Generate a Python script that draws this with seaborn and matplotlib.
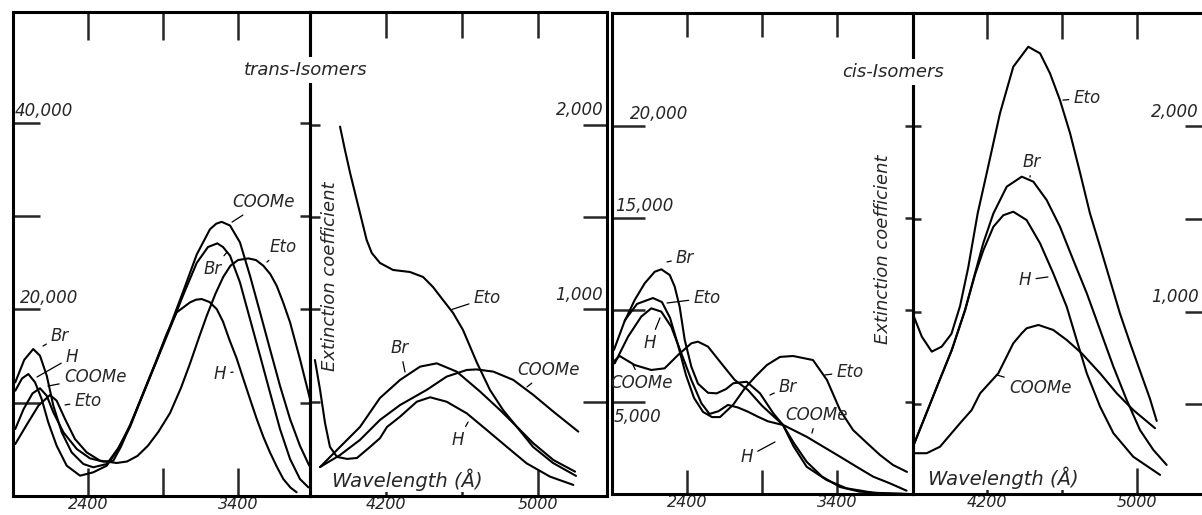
import numpy as np
import pandas as pd
import matplotlib
matplotlib.use('Agg')
import matplotlib.pyplot as plt
import matplotlib.transforms as mtransforms
import seaborn as sns

# ---- trans isomers, UV part (left scale) ----
tuv_h_wl = [1915, 1960, 2002, 2047, 2091, 2135, 2191, 2258, 2347, 2435, 2525, 2600, 2680, 2769, 2858, 2920, 2991, 3080, 3120, 3158, 3210, 3258, 3300, 3341, 3390, 3436, 3480, 3525, 3570, 3613, 3660, 3702, 3750, 3791]
tuv_h_eps = [11290, 12600, 13080, 12190, 10400, 7900, 5390, 3250, 2180, 2540, 3250, 5000, 7600, 11000, 14600, 17200, 19690, 20760, 21050, 21120, 20800, 20050, 18700, 16830, 14800, 12540, 10400, 8250, 6300, 4680, 3100, 1820, 900, 400]
tuv_br_wl = [1915, 1975, 2035, 2080, 2125, 2169, 2225, 2291, 2369, 2435, 2525, 2600, 2680, 2769, 2858, 2947, 3036, 3125, 3200, 3262, 3300, 3347, 3413, 3480, 3547, 3613, 3680, 3747, 3813, 3869]
tuv_br_eps = [12190, 14600, 15760, 15040, 12900, 9680, 6830, 4680, 3430, 3080, 3430, 5100, 7400, 11000, 14500, 18000, 21600, 25000, 26700, 27090, 26700, 25760, 22910, 18970, 15040, 11120, 7180, 3970, 1820, 930]
tuv_coome_wl = [1915, 1970, 2030, 2080, 2125, 2169, 2236, 2325, 2413, 2502, 2569, 2620, 2680, 2769, 2858, 2947, 3036, 3125, 3213, 3255, 3291, 3347, 3413, 3480, 3547, 3613, 3680, 3747, 3813, 3875]
tuv_coome_eps = [7180, 9300, 11000, 11550, 10750, 8970, 6830, 5040, 4040, 3680, 3790, 5300, 7500, 11100, 14600, 18200, 22000, 25900, 28600, 29200, 29400, 29000, 27200, 23620, 19690, 15760, 11820, 8250, 5390, 3250]
tuv_eto_wl = [1915, 1990, 2070, 2147, 2191, 2247, 2313, 2391, 2480, 2591, 2660, 2730, 2800, 2870, 2947, 3020, 3080, 3140, 3191, 3250, 3302, 3350, 3400, 3469, 3520, 3569, 3615, 3658, 3700, 3747, 3813, 3880]
tuv_eto_eps = [5570, 7600, 9700, 10830, 10220, 8250, 6110, 4680, 3790, 3540, 3700, 4300, 5400, 6900, 8900, 11600, 14200, 17000, 19300, 21700, 23500, 24700, 25300, 25480, 25300, 24690, 23800, 22540, 20800, 18620, 14690, 10400]

# ---- trans isomers, visible part (right scale) ----
tvis_h_wl = [3826, 3853, 3879, 3905, 3942, 3995, 4047, 4116, 4168, 4205, 4274, 4362, 4432, 4519, 4625, 4730, 4835, 4940, 5063, 5186]
tvis_h_eps = [726, 564, 385, 255, 201, 190, 195, 255, 302, 363, 419, 500, 524, 500, 437, 347, 256, 166, 94, 49]
tvis_br_wl = [3853, 3958, 4063, 4168, 4274, 4379, 4467, 4572, 4695, 4800, 4888, 4975, 5081, 5195]
tvis_br_eps = [146, 255, 363, 520, 618, 690, 708, 663, 555, 455, 365, 275, 184, 121]
tvis_coome_wl = [3853, 3958, 4063, 4168, 4274, 4414, 4519, 4625, 4677, 4765, 4870, 4975, 5081, 5212]
tvis_coome_eps = [146, 211, 293, 401, 482, 564, 636, 672, 675, 663, 618, 537, 446, 338]
tvis_eto_wl = [3958, 3984, 4011, 4037, 4063, 4098, 4125, 4168, 4237, 4326, 4395, 4447, 4500, 4553, 4605, 4679, 4747, 4816, 4889, 4974, 5079, 5200]
tvis_eto_eps = [1991, 1864, 1740, 1631, 1523, 1377, 1306, 1252, 1214, 1203, 1176, 1122, 1051, 981, 889, 710, 564, 455, 363, 255, 168, 98]

# ---- cis isomers, UV part ----
cuv_h_wl = [1918, 2007, 2095, 2162, 2229, 2295, 2362, 2429, 2496, 2550, 2610, 2673, 2740, 2807, 2873, 2940, 3040, 3110, 3198, 3300, 3420, 3550, 3700, 3880]
cuv_h_eps = [7100, 8550, 9640, 10090, 9910, 9090, 7650, 6200, 4930, 4350, 4500, 4840, 4700, 4470, 4200, 3950, 3750, 2800, 1750, 950, 380, 130, 30, 0]
cuv_br_wl = [1985, 2051, 2118, 2185, 2229, 2285, 2318, 2351, 2385, 2429, 2473, 2540, 2598, 2660, 2709, 2798, 2887, 2975, 3040, 3110, 3198, 3331, 3464, 3642, 3864]
cuv_br_eps = [9400, 10540, 11450, 12080, 12210, 11900, 11270, 10180, 8370, 6920, 6000, 5500, 5470, 5700, 6020, 6100, 5470, 4390, 3750, 2600, 1480, 760, 310, 70, 0]
cuv_coome_wl = [1900, 1951, 2051, 2162, 2251, 2340, 2429, 2473, 2540, 2629, 2718, 2807, 2900, 2980, 3042, 3198, 3309, 3420, 3531, 3642, 3753, 3864]
cuv_coome_eps = [7120, 7500, 7010, 6740, 6830, 7550, 8190, 8280, 8010, 7100, 6200, 5650, 4800, 4200, 3750, 3110, 2570, 2030, 1480, 940, 580, 180]
cuv_eto_wl = [1913, 1987, 2067, 2173, 2233, 2287, 2340, 2393, 2447, 2507, 2567, 2620, 2707, 2787, 2853, 2933, 3020, 3107, 3240, 3333, 3420, 3507, 3600, 3687, 3773, 3867]
cuv_eto_eps = [7830, 9460, 10330, 10650, 10430, 9570, 8100, 6470, 5220, 4460, 4180, 4180, 4840, 5760, 6360, 7010, 7450, 7500, 7280, 6200, 4570, 3480, 2770, 2120, 1580, 1200]

# ---- cis isomers, visible part ----
cvis_h_wl = [3798, 3869, 3940, 4012, 4083, 4136, 4180, 4234, 4287, 4340, 4411, 4483, 4553, 4625, 4678, 4732, 4803, 4874, 4980, 5123]
cvis_h_eps = [254, 433, 613, 793, 1009, 1200, 1330, 1458, 1520, 1539, 1494, 1368, 1207, 1026, 847, 667, 487, 344, 217, 119]
cvis_br_wl = [3798, 3869, 3940, 4012, 4083, 4136, 4180, 4234, 4305, 4385, 4447, 4518, 4589, 4660, 4732, 4803, 4874, 4945, 5016, 5087, 5158]
cvis_br_eps = [254, 433, 613, 793, 1009, 1207, 1370, 1530, 1674, 1728, 1701, 1602, 1458, 1278, 1099, 901, 703, 523, 361, 254, 173]
cvis_coome_wl = [3807, 3878, 3949, 4056, 4118, 4163, 4260, 4340, 4385, 4411, 4474, 4553, 4625, 4705, 4803, 4892, 4980, 5096]
cvis_coome_eps = [236, 236, 271, 398, 469, 559, 667, 829, 883, 910, 928, 901, 847, 775, 667, 559, 469, 371]
cvis_eto_wl = [3807, 3852, 3905, 3958, 4010, 4056, 4100, 4150, 4198, 4269, 4340, 4420, 4483, 4536, 4589, 4643, 4696, 4749, 4803, 4856, 4909, 4963, 5016, 5069, 5105]
cvis_eto_eps = [980, 865, 784, 811, 880, 1030, 1240, 1530, 1746, 2070, 2321, 2429, 2393, 2285, 2141, 1962, 1750, 1530, 1350, 1170, 990, 830, 680, 530, 410]


def frame(curves):
    return pd.concat([pd.DataFrame({'wl': w, 'eps': e, 'compound': n}) for n, w, e in curves],
                     ignore_index=True)


sns.set_style('white')
plt.rcParams['font.family'] = ['DejaVu Sans']
plt.rcParams['font.style'] = 'italic'

W, H = 1202, 515
fig = plt.figure(figsize=(W / 100, H / 100), dpi=100)


def axes_px(x0, y0, x1, y1):
    ax = fig.add_axes([x0 / W, 1 - y1 / H, (x1 - x0) / W, (y1 - y0) / H])
    ax.patch.set_alpha(0)
    for s in ax.spines.values():
        s.set_linewidth(2.2)
        s.set_color('black')
    return ax


def draw(ax, curves, xlim, ylim):
    df = frame(curves)
    sns.lineplot(data=df, x='wl', y='eps', units='compound', estimator=None, sort=False,
                 color='black', lw=1.5, ax=ax, legend=False, zorder=3)
    ax.set_xlim(*xlim)
    ax.set_ylim(*ylim)
    ax.set_xlabel('')
    ax.set_ylabel('')


def ticks(ax, xt, xl, yt, x_len, left_len, right_len):
    ax.set_xticks(xt)
    ax.set_xticklabels(xl, fontsize=11.5)
    ax.set_yticks(yt)
    ax.set_yticklabels([])
    ax.tick_params(axis='x', direction='in', top=True, bottom=True, length=x_len * 0.72, width=1.8, pad=1)
    ax.tick_params(axis='y', direction='in', left=True, right=True, width=1.8)
    for t in ax.yaxis.get_major_ticks():
        t.tick1line.set_markersize(left_len * 0.72)
        t.tick2line.set_markersize(right_len * 0.72)


def tag(ax, s, xy_text, xy_point, size=12):
    ax.annotate(s, xy=xy_point, xytext=xy_text, ha='center', va='center', fontsize=size,
                arrowprops=dict(arrowstyle='-', lw=0.9, color='black', shrinkA=1, shrinkB=0))


def ylab(ax, s, xfrac, y, ha, va):
    tr = mtransforms.blended_transform_factory(ax.transAxes, ax.transData)
    ax.text(xfrac, y, s, transform=tr, ha=ha, va=va, fontsize=12)


# ---------- trans panel ----------
ax1 = axes_px(13, 12, 310, 496)
draw(ax1, [('H', tuv_h_wl, tuv_h_eps), ('Br', tuv_br_wl, tuv_br_eps),
           ('COOMe', tuv_coome_wl, tuv_coome_eps), ('Eto', tuv_eto_wl, tuv_eto_eps)],
     (1900, 3880), (0, 51900))
ticks(ax1, [2400, 2900, 3400], ['2400', '', '3400'], [10000, 20000, 30000, 40000], 28, 27, 10)
ylab(ax1, '40,000', 0.007, 40300, 'left', 'bottom')
ylab(ax1, '20,000', 0.024, 20300, 'left', 'bottom')
tag(ax1, 'COOMe', (3567, 31520), (3360, 29370))
tag(ax1, 'Br', (3233, 24330), (3327, 26160))
tag(ax1, 'Eto', (3700, 26690), (3593, 25080))
tag(ax1, 'H', (3280, 13080), (3367, 13290))
tag(ax1, 'Br', (2213, 17150), (2100, 16080))
tag(ax1, 'H', (2293, 14900), (2060, 12760))
tag(ax1, 'COOMe', (2447, 12760), (2133, 11790))
tag(ax1, 'Eto', (2400, 10180), (2247, 9760))

ax2 = axes_px(310, 12, 607, 496)
draw(ax2, [('H', tvis_h_wl, tvis_h_eps), ('Br', tvis_br_wl, tvis_br_eps),
           ('COOMe', tvis_coome_wl, tvis_coome_eps), ('Eto', tvis_eto_wl, tvis_eto_eps)],
     (3800, 5363), (-11, 2612))
ticks(ax2, [4200, 4600, 5000], ['4200', '', '5000'], [500, 1000, 1500, 2000], 26, 10, 24)
ylab(ax2, '2,000', 0.99, 2030, 'right', 'bottom')
ylab(ax2, '1,000', 0.987, 1030, 'right', 'bottom')
tag(ax2, 'Eto', (4732, 1062), (4547, 1000))
tag(ax2, 'Br', (4274, 791), (4300, 661))
tag(ax2, 'COOMe', (5053, 672), (4942, 580))
tag(ax2, 'H', (4579, 293), (4632, 390))
ax2.text(4311, 76, 'Wavelength (Å)', ha='center', va='center', fontsize=14, zorder=2.6,
         bbox=dict(facecolor='white', edgecolor='none', pad=0.5))
ax2.text(3905, 1180, 'Extinction coefficient', rotation=90, ha='center', va='center', fontsize=13)

fig.text(306 / W, 1 - 70 / H, 'trans-Isomers', ha='center', va='center', fontsize=13,
         bbox=dict(facecolor='white', edgecolor='none', pad=3))

# ---------- cis panel ----------
ax3 = axes_px(612, 13, 913, 494)
draw(ax3, [('H', cuv_h_wl, cuv_h_eps), ('Br', cuv_br_wl, cuv_br_eps),
           ('COOMe', cuv_coome_wl, cuv_coome_eps), ('Eto', cuv_eto_wl, cuv_eto_eps)],
     (1900, 3907), (0, 26140))
ticks(ax3, [2400, 2900, 3400], ['2400', '', '3400'], [5000, 10000, 15000, 20000], 24, 33, 8)
ylab(ax3, '20,000', 0.06, 20150, 'left', 'bottom')
ylab(ax3, '15,000', 0.01, 15150, 'left', 'bottom')
ylab(ax3, '5,000', 0.005, 4700, 'left', 'top')
tag(ax3, 'Br', (2387, 12830), (2267, 12610))
tag(ax3, 'Eto', (2533, 10650), (2267, 10380))
tag(ax3, 'H', (2153, 8210), (2220, 9570))
tag(ax3, 'COOMe', (2100, 6030), (2040, 7010))
tag(ax3, 'Eto', (3487, 6630), (3320, 6470))
tag(ax3, 'Br', (3073, 5820), (2953, 5380))
tag(ax3, 'COOMe', (3267, 4290), (3233, 3310))
tag(ax3, 'H', (2800, 2010), (2987, 2830))
ax3.text(3707, 13300, 'Extinction coefficient', rotation=90, ha='center', va='center', fontsize=13)

ax4 = axes_px(913, 13, 1212, 494)
draw(ax4, [('H', cvis_h_wl, cvis_h_eps), ('Br', cvis_br_wl, cvis_br_eps),
           ('COOMe', cvis_coome_wl, cvis_coome_eps), ('Eto', cvis_eto_wl, cvis_eto_eps)],
     (3805, 5400), (16, 2611))
ticks(ax4, [4200, 4600, 5000], ['4200', '', '5000'], [500, 1000, 1500, 2000], 26, 8, 27)
ylab(ax4, '2,000', 0.955, 2030, 'right', 'bottom')
ylab(ax4, '1,000', 0.955, 1030, 'right', 'bottom')
tag(ax4, 'Eto', (4733, 2152), (4605, 2141))
tag(ax4, 'Br', (4440, 1807), (4429, 1726))
tag(ax4, 'H', (4403, 1170), (4525, 1187))
tag(ax4, 'COOMe', (4483, 588), (4253, 658))
ax4.text(4287, 102, 'Wavelength (Å)', ha='center', va='center', fontsize=14, zorder=2.6,
         bbox=dict(facecolor='white', edgecolor='none', pad=0.5))

fig.text(893 / W, 1 - 72 / H, 'cis-Isomers', ha='center', va='center', fontsize=13,
         bbox=dict(facecolor='white', edgecolor='none', pad=3))

fig.savefig('out.png', dpi=100)
